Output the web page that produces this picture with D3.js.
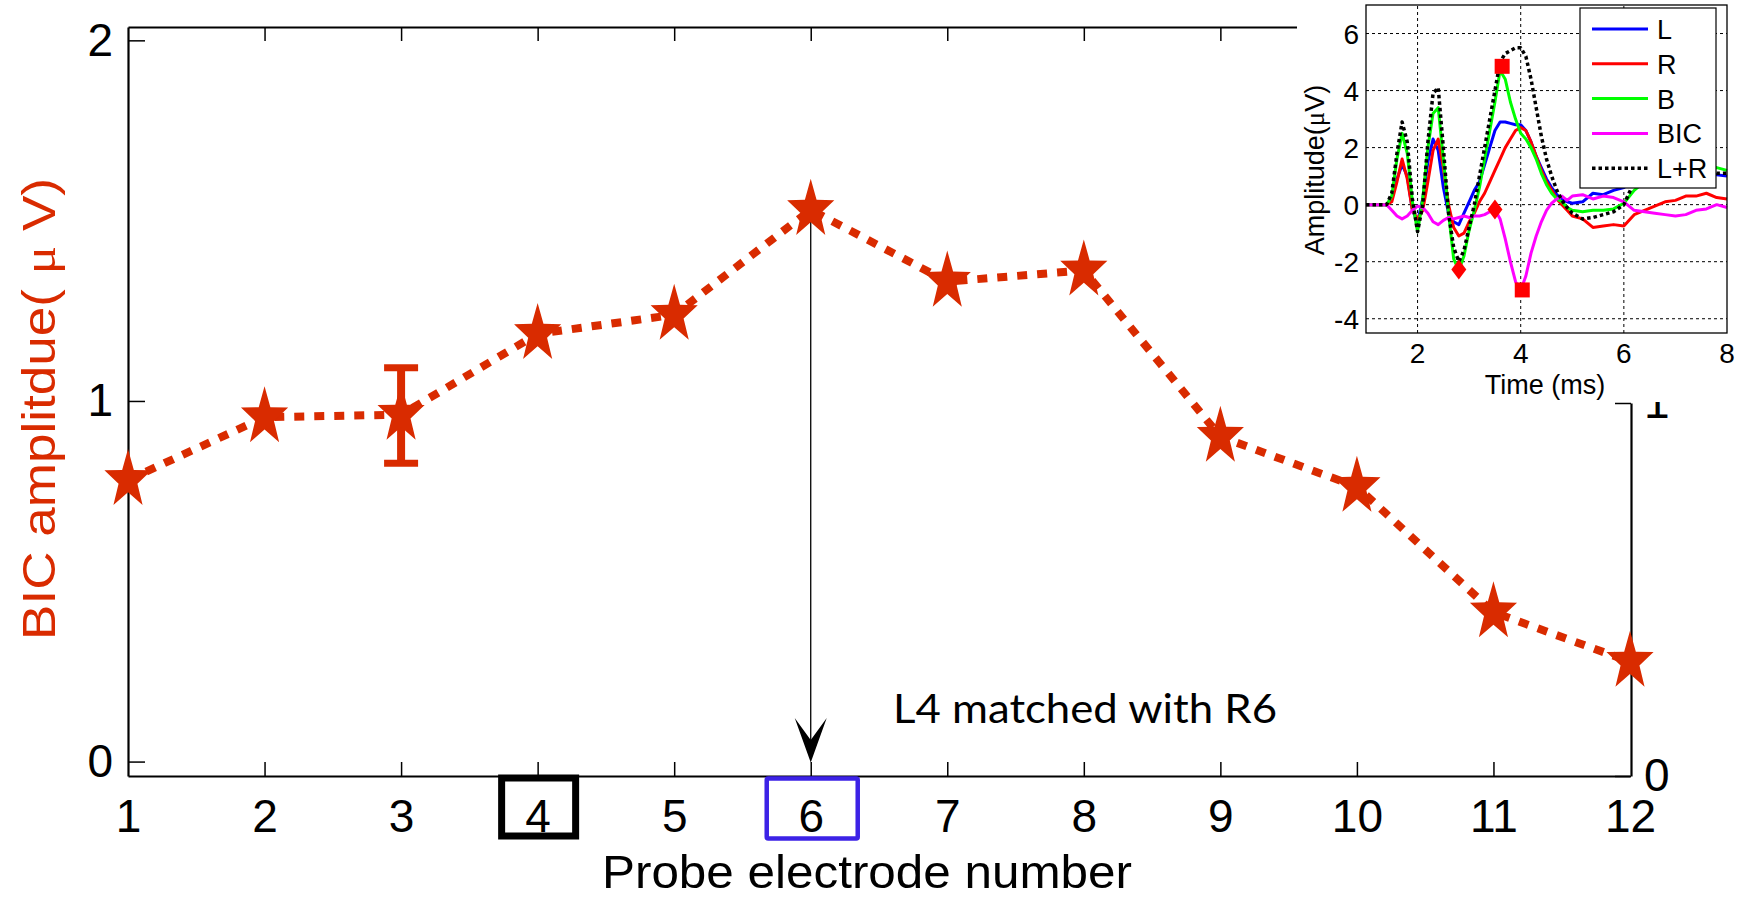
<!DOCTYPE html>
<html>
<head>
<meta charset="utf-8">
<script src="https://cdn.jsdelivr.net/npm/d3@7"></script>
<style>
  body { margin: 0; background: #fff; }
  svg { display: block; }
</style>
</head>
<body>
<div id="vis"></div>
<script>
var width = 1745,
    height = 901;

// main chart values
var electrodes = [1, 2, 3, 4, 5, 6, 7, 8, 9, 10, 11, 12];
var bicAmp = [0.781, 0.955, 0.962, 1.186, 1.239, 1.530, 1.331, 1.362, 0.901, 0.762, 0.414, 0.277];
var errBar = { electrode: 3, low: 0.827, high: 1.092 };
var yTicks = [0, 1, 2];
var rightTicks = [0, 1];
var leftProbe = 4, matchedProbe = 6;

// inset waveforms (ms, uV)
var insetTime = [1.0, 1.4, 1.5, 1.6, 1.7, 1.8, 1.9, 2.0, 2.1, 2.2, 2.3, 2.4, 2.5, 2.6, 2.7, 2.8, 2.9, 3.0, 3.1, 3.2, 3.3, 3.4, 3.5, 3.6, 3.7, 3.8, 3.9, 4.0, 4.1, 4.2, 4.3, 4.4, 4.5, 4.6, 4.7, 4.8, 4.9, 5.0, 5.2, 5.4, 5.6, 5.8, 6.0, 6.2, 6.4, 6.6, 6.8, 7.0, 7.2, 7.4, 7.6, 7.8, 8.0];
var sigL   = [0, 0, 0.2, 0.9, 1.4, 1.0, -0.2, -0.6, 0.2, 1.5, 2.3, 1.9, 0.6, -0.3, -0.6, -0.7, -0.3, 0.1, 0.5, 0.8, 1.4, 2.0, 2.6, 2.9, 2.9, 2.85, 2.8, 2.8, 2.6, 2.2, 1.7, 1.3, 0.9, 0.6, 0.35, 0.2, 0.1, 0.05, 0.1, 0.4, 0.35, 0.5, 0.6, 0.8, 0.9, 1.0, 1.1, 1.1, 1.1, 1.1, 1.1, 1.05, 1.0];
var sigR   = [0, 0, 0.1, 0.8, 1.6, 0.9, -0.2, -0.5, -0.2, 0.8, 1.9, 2.3, 1.3, 0, -0.8, -1.1, -1.0, -0.6, -0.3, 0.1, 0.4, 0.8, 1.2, 1.6, 2.0, 2.3, 2.6, 2.7, 2.6, 2.2, 1.7, 1.2, 0.8, 0.5, 0.2, 0, -0.2, -0.4, -0.5, -0.8, -0.75, -0.7, -0.75, -0.35, -0.2, -0.05, 0.1, 0.15, 0.3, 0.3, 0.4, 0.25, 0.2];
var sigB   = [0, 0, 0.3, 1.6, 2.5, 1.8, 0.1, -0.95, 0.2, 2.0, 3.2, 3.4, 1.6, -0.3, -1.9, -2.3, -1.8, -0.9, -0.2, 0.6, 1.6, 2.6, 3.6, 4.7, 4.4, 3.6, 3.0, 2.5, 2.3, 2.0, 1.6, 1.1, 0.7, 0.4, 0.2, 0.1, -0.1, -0.2, -0.25, -0.2, -0.2, -0.15, 0.05, 0.5, 0.8, 1.0, 1.1, 1.2, 1.2, 1.2, 1.25, 1.3, 1.2];
var sigBIC = [0, 0, -0.2, -0.4, -0.5, -0.4, -0.2, -0.05, -0.1, -0.3, -0.6, -0.7, -0.55, -0.45, -0.5, -0.45, -0.4, -0.45, -0.4, -0.4, -0.35, -0.25, -0.17, -0.5, -1.2, -2.0, -2.7, -3.0, -2.5, -1.7, -1.1, -0.6, -0.2, 0.05, 0.2, 0.3, 0.15, 0.3, 0.35, 0.2, 0.3, 0.25, 0.1, -0.2, -0.25, -0.3, -0.35, -0.4, -0.35, -0.2, -0.15, 0.0, -0.1];
var sigLR  = [0, 0, 0.4, 1.8, 2.9, 2.2, 0.2, -0.95, 0, 2.2, 3.9, 4.1, 2.0, -0.3, -1.5, -2.0, -1.6, -0.8, 0.0, 1.0, 2.0, 3.0, 4.0, 5.0, 5.3, 5.4, 5.5, 5.5, 5.2, 4.4, 3.4, 2.4, 1.6, 1.0, 0.5, 0.15, -0.1, -0.3, -0.5, -0.45, -0.35, -0.25, 0.0, 0.8, 1.0, 1.1, 1.2, 1.2, 1.2, 1.2, 1.15, 1.1, 1.1];
var peakMarks = [
  { t: 2.80, v: -2.27, shape: "diamond" },
  { t: 3.50, v: -0.17, shape: "diamond" },
  { t: 3.64, v: 4.85, shape: "square" },
  { t: 4.03, v: -2.99, shape: "square" }
];
var insetXTicks = [2, 4, 6, 8];
var insetYTicks = [-4, -2, 0, 2, 4, 6];
var legendNames = ["L", "R", "B", "BIC", "L+R"];
var legendColors = ["#0000ff", "#ff0000", "#00ff00", "#ff00ff", "#000000"];

var red = "#d92b00";
var font = "'Liberation Sans', Arial, sans-serif";

var svg = d3.select("#vis").append("svg")
    .attr("width", width)
    .attr("height", height);

var x = d3.scaleLinear().domain([1, 12]).range([128, 1630]);
var y = d3.scaleLinear().domain([-0.04, 2.037]).range([776, 27]);
var yRight = d3.scaleLinear().domain([0, 1]).range([776, 403]);

function starPath(R) {
  var pts = [];
  for (var i = 0; i < 10; i++) {
    var r = i % 2 == 0 ? R : R * 0.4;
    var a = -Math.PI / 2 + i * Math.PI / 5;
    pts.push([Math.cos(a) * r * 0.8, Math.sin(a) * r]);
  }
  return "M" + pts.join("L") + "Z";
}

function styleAxis(g) {
  g.select(".domain").attr("stroke", "#000").attr("stroke-width", 2.2);
  g.selectAll(".tick line").attr("stroke", "#000").attr("stroke-width", 1.5);
  g.selectAll(".tick text")
    .attr("fill", "#000")
    .style("font-family", font)
    .style("font-size", "46px");
}

// bottom axis
var xAxis = svg.append("g")
    .attr("transform", "translate(0," + y.range()[0] + ")")
    .call(d3.axisBottom(x).tickValues(electrodes).tickSizeInner(-14).tickSizeOuter(0).tickPadding(23).tickFormat(d3.format("d")));
styleAxis(xAxis);
xAxis.selectAll(".tick").filter(function(d) { return d == 1 || d == 12; }).select("line").remove();

// top axis (ticks only)
var topAxis = svg.append("g")
    .attr("transform", "translate(0," + y.range()[1] + ")")
    .call(d3.axisTop(x).tickValues(electrodes.slice(1)).tickSizeInner(-14).tickSizeOuter(0).tickFormat(""));
styleAxis(topAxis);

// left axis
var yAxis = svg.append("g")
    .attr("transform", "translate(" + x.range()[0] + ",0)")
    .call(d3.axisLeft(y).tickValues(yTicks).tickSizeInner(-17).tickSizeOuter(0).tickPadding(15).tickFormat(d3.format("d")));
styleAxis(yAxis);

// right axis
var rAxis = svg.append("g")
    .attr("transform", "translate(" + (x.range()[1] + 1) + ",0)")
    .call(d3.axisRight(yRight).tickValues(rightTicks).tickSizeInner(-16).tickSizeOuter(0).tickPadding(13).tickFormat(d3.format("d")));
styleAxis(rAxis);

// y title
svg.append("text")
    .attr("transform", "translate(55,409) rotate(-90)")
    .attr("text-anchor", "middle")
    .attr("fill", red)
    .attr("textLength", 462)
    .attr("lengthAdjust", "spacingAndGlyphs")
    .style("font-family", font)
    .style("font-size", "46px")
    .html("BIC amplitdue( <tspan style=\"font-family:'Liberation Serif','DejaVu Serif',serif\">\u03bc</tspan> V)");

// x title
svg.append("text")
    .attr("x", 867)
    .attr("y", 888)
    .attr("text-anchor", "middle")
    .attr("textLength", 530)
    .attr("lengthAdjust", "spacingAndGlyphs")
    .style("font-family", font)
    .style("font-size", "47px")
    .text("Probe electrode number");

// highlight boxes around labels 4 and 6
svg.append("rect")
    .attr("x", x(leftProbe) - 36)
    .attr("y", 778)
    .attr("width", 74)
    .attr("height", 58)
    .attr("fill", "none")
    .attr("stroke", "#000")
    .attr("stroke-width", 7);

svg.append("rect")
    .attr("x", x(matchedProbe) - 44)
    .attr("y", 778.5)
    .attr("width", 91)
    .attr("height", 60)
    .attr("rx", 1.5)
    .attr("fill", "none")
    .attr("stroke", "#3c22e6")
    .attr("stroke-width", 4.5);

// arrow from the peak down to the axis
var ax = x(matchedProbe);
svg.append("line")
    .attr("x1", ax).attr("x2", ax)
    .attr("y1", y(bicAmp[matchedProbe - 1]))
    .attr("y2", 740)
    .attr("stroke", "#000")
    .attr("stroke-width", 1.3);

svg.append("path")
    .attr("d", "M" + ax + "," + (y(0) + 1) + "L" + (ax - 16) + ",718L" + ax + ",740L" + (ax + 16) + ",718Z")
    .attr("fill", "#000");

svg.append("text")
    .attr("x", 893)
    .attr("y", 723)
    .attr("textLength", 384)
    .attr("lengthAdjust", "spacingAndGlyphs")
    .style("font-family", "Lato, 'Open Sans', sans-serif")
    .style("font-size", "40px")
    .text("L4 matched with R" + matchedProbe);

// dotted line
var line = d3.line()
    .x(function(d, i) { return x(electrodes[i]); })
    .y(function(d) { return y(d); });

svg.append("path")
    .datum(bicAmp)
    .attr("d", line)
    .attr("fill", "none")
    .attr("stroke", red)
    .attr("stroke-width", 8)
    .attr("stroke-dasharray", "10,10");

// error bar
var ex = x(errBar.electrode);
var eb = svg.append("g").attr("stroke", red);
eb.append("line")
    .attr("x1", ex).attr("x2", ex)
    .attr("y1", y(errBar.low)).attr("y2", y(errBar.high))
    .attr("stroke-width", 8);
eb.selectAll("line.cap")
    .data([errBar.low, errBar.high])
    .enter()
    .append("line")
    .attr("class", "cap")
    .attr("x1", ex - 17).attr("x2", ex + 17)
    .attr("y1", function(d) { return y(d); })
    .attr("y2", function(d) { return y(d); })
    .attr("stroke-width", 7);

// stars
svg.selectAll("path.star")
    .data(bicAmp)
    .enter()
    .append("path")
    .attr("class", "star")
    .attr("d", starPath(31))
    .attr("transform", function(d, i) { return "translate(" + x(electrodes[i]) + "," + y(d) + ")"; })
    .attr("fill", red);

// INSET
svg.append("rect")
    .attr("x", 1297)
    .attr("y", 0)
    .attr("width", width - 1297)
    .attr("height", 402)
    .attr("fill", "#fff");

var xi = d3.scaleLinear().domain([1, 8]).range([1366, 1727]);
var yi = d3.scaleLinear().domain([-4.5, 7]).range([333, 5]);

var inset = svg.append("g");

// grid
inset.selectAll("line.vgrid")
    .data(insetXTicks.slice(0, 3))
    .enter()
    .append("line")
    .attr("x1", function(d) { return xi(d); })
    .attr("x2", function(d) { return xi(d); })
    .attr("y1", yi.range()[0]).attr("y2", yi.range()[1])
    .attr("stroke", "#000").attr("stroke-width", 1)
    .attr("stroke-dasharray", "3,3");

inset.selectAll("line.hgrid")
    .data(insetYTicks)
    .enter()
    .append("line")
    .attr("x1", xi.range()[0]).attr("x2", xi.range()[1])
    .attr("y1", function(d) { return yi(d); })
    .attr("y2", function(d) { return yi(d); })
    .attr("stroke", "#000").attr("stroke-width", 1)
    .attr("stroke-dasharray", "3,3");

var insetLine = d3.line()
    .x(function(d, i) { return xi(insetTime[i]); })
    .y(function(d) { return yi(d); });

var series = [sigL, sigR, sigB, sigBIC, sigLR];
inset.selectAll("path.sig")
    .data(series)
    .enter()
    .append("path")
    .attr("class", "sig")
    .attr("d", insetLine)
    .attr("fill", "none")
    .attr("stroke", function(d, i) { return legendColors[i]; })
    .attr("stroke-width", function(d, i) { return i == 4 ? 3.5 : 3; })
    .attr("stroke-dasharray", function(d, i) { return i == 4 ? "3.5,3" : null; })
    .attr("stroke-linejoin", "round");

inset.selectAll("path.peak")
    .data(peakMarks)
    .enter()
    .append("path")
    .attr("class", "peak")
    .attr("d", function(d) {
      return d.shape == "square" ? "M-7.5,-7.5H7.5V7.5H-7.5Z" : "M0,-10L7.5,0L0,10L-7.5,0Z";
    })
    .attr("transform", function(d) { return "translate(" + xi(d.t) + "," + yi(d.v) + ")"; })
    .attr("fill", "#ff0000");

// frame and ticks
inset.append("rect")
    .attr("x", xi.range()[0]).attr("y", yi.range()[1])
    .attr("width", xi.range()[1] - xi.range()[0])
    .attr("height", yi.range()[0] - yi.range()[1])
    .attr("fill", "none")
    .attr("stroke", "#000")
    .attr("stroke-width", 1.3);

inset.selectAll("text.xt")
    .data(insetXTicks)
    .enter()
    .append("text")
    .attr("x", function(d) { return xi(d); })
    .attr("y", 363)
    .attr("text-anchor", "middle")
    .style("font-family", font)
    .style("font-size", "28px")
    .text(function(d) { return d; });

inset.selectAll("text.yt")
    .data(insetYTicks)
    .enter()
    .append("text")
    .attr("x", 1359)
    .attr("y", function(d) { return yi(d) + 10; })
    .attr("text-anchor", "end")
    .style("font-family", font)
    .style("font-size", "28px")
    .text(function(d) { return d; });

inset.append("text")
    .attr("x", 1545)
    .attr("y", 394)
    .attr("text-anchor", "middle")
    .style("font-family", font)
    .style("font-size", "27px")
    .text("Time (ms)");

inset.append("text")
    .attr("transform", "translate(1324,170) rotate(-90)")
    .attr("text-anchor", "middle")
    .style("font-family", font)
    .style("font-size", "27px")
    .html("Amplitude(<tspan style=\"font-family:'Liberation Serif','DejaVu Serif',serif\">\u03bc</tspan>V)");

// legend
var legend = inset.append("g");
legend.append("rect")
    .attr("x", 1580).attr("y", 8)
    .attr("width", 136).attr("height", 180)
    .attr("fill", "#fff")
    .attr("stroke", "#000")
    .attr("stroke-width", 1.2);

var entry = legend.selectAll("g.entry")
    .data(legendNames)
    .enter()
    .append("g")
    .attr("class", "entry")
    .attr("transform", function(d, i) { return "translate(0," + (29 + i * 34.8) + ")"; });

entry.append("line")
    .attr("x1", 1592).attr("x2", 1648)
    .attr("stroke", function(d, i) { return legendColors[i]; })
    .attr("stroke-width", function(d, i) { return i == 4 ? 3.5 : 3; })
    .attr("stroke-dasharray", function(d, i) { return i == 4 ? "3.5,3" : null; });

entry.append("text")
    .attr("x", 1657)
    .attr("y", 10)
    .style("font-family", font)
    .style("font-size", "27px")
    .text(function(d) { return d; });
</script>
</body>
</html>
